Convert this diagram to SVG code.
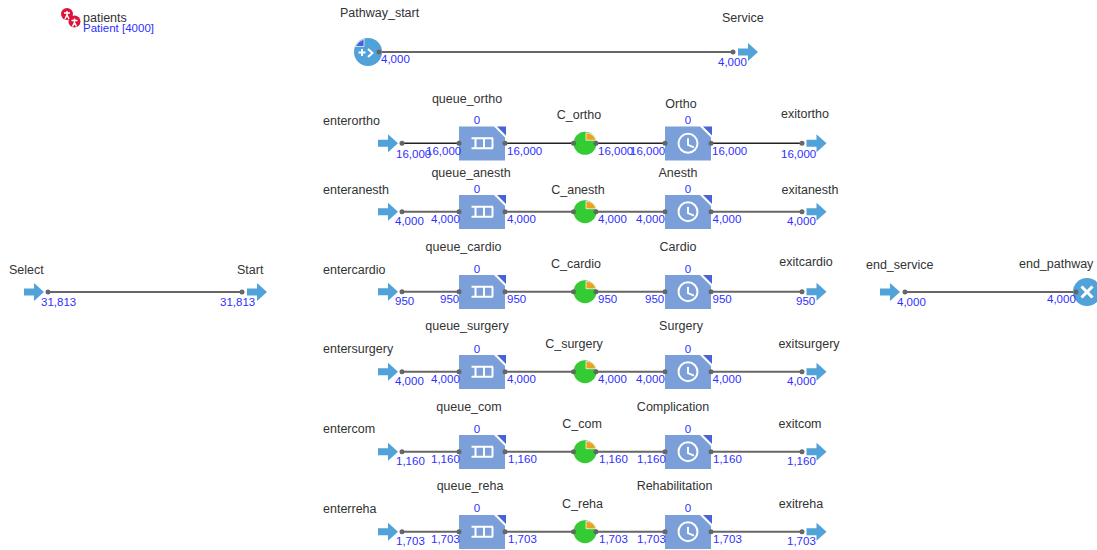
<svg xmlns="http://www.w3.org/2000/svg" width="1097" height="550" viewBox="0 0 1097 550">
<style>
text{font-family:"Liberation Sans",Arial,sans-serif;font-size:12.500px;fill:#333}
text.n{fill:#2f2fff;font-size:11.500px}
.m{text-anchor:middle}
.c{stroke:#222;stroke-width:1.5;fill:none}
.g{stroke:#666;stroke-width:2;fill:none}
.p{fill:#666}
</style>
<defs>
<path id="arrow" d="M0-3.500H10V-9L20 0 10 9V3.500H0Z" fill="#51a2d8"/>
<g id="corner"><path d="M0-16.700H35L46-5.700V17.300H0Z" fill="#7b9fd8"/><path d="M38-16.700H47V-7.700Z" fill="#4664d8"/></g>
<g id="queue"><use href="#corner"/><path d="M12.500-5H34M12.500 5H34M16.500-5V5M25-5V5M33.500-5V5" stroke="#fff" stroke-width="2" fill="none"/><circle cx="0" cy="0" r="2.500" class="p"/><circle cx="46" cy="0" r="2.500" class="p"/></g>
<g id="delay"><use href="#corner"/><circle cx="23" cy="0" r="9.500" fill="none" stroke="#fff" stroke-width="2"/><path d="M23-5V1.500L29 4" fill="none" stroke="#fff" stroke-width="2"/><circle cx="0" cy="0" r="2.500" class="p"/><circle cx="46" cy="0" r="2.500" class="p"/></g>
<g id="res"><circle r="11.500" fill="#33cc33"/><path d="M1-3V-10.500A11 11 0 0 1 11-3Z" fill="#f0a020" stroke="#fff" stroke-width=".7"/><circle cx="-11.500" r="2.500" class="p"/><circle cx="11" r="2.500" class="p"/></g>
</defs>
<g id="connectors">
<path class="g" d="M48 292H242M379 52H733M905 292H1076"/>
<path class="c" d="M402 143.300H459M505 143.300H573M596 143.300H665M711 143.300H802"/>
<path class="g" d="M402 211.700H459M505 211.700H573M596 211.700H665M711 211.700H802"/>
<path class="g" d="M402 291.700H459M505 291.700H573M596 291.700H665M711 291.700H802"/>
<path class="g" d="M402 371.700H459M505 371.700H573M596 371.700H665M711 371.700H802"/>
<path class="g" d="M402 451.700H459M505 451.700H573M596 451.700H665M711 451.700H802"/>
<path class="g" d="M402 531.700H459M505 531.700H573M596 531.700H665M711 531.700H802"/>
</g>
<g id="patients">
<circle cx="67" cy="14" r="6" fill="#dc143c"/><circle cx="74.500" cy="21.500" r="6" fill="#dc143c"/>
<path d="M67 11V15M64 13L70 13M65 19L67 15 69 19M74.500 18.500V22.500M71.500 20.500H77.500M72.500 26.500L74.500 22.500 76.500 26.500" stroke="#fff" stroke-width="1.500" fill="none"/>
<text x="83" y="22">patients</text><text x="83" y="32" class="n">Patient [4000]</text>
</g>
<g id="Select"><use href="#arrow" x="24" y="292"/><circle cx="48" cy="292" r="2.500" class="p"/><text x="9" y="274">Select</text><text x="41" y="306" class="n">31,813</text></g>
<g id="Start"><use href="#arrow" x="247" y="292"/><circle cx="242" cy="292" r="2.500" class="p"/><text x="237" y="274">Start</text><text x="220" y="306" class="n">31,813</text></g>
<g id="Pathway_start"><circle cx="368" cy="52" r="14" fill="#51a2d8"/><path d="M364 46.500H355.500A13.500 13.500 0 0 1 364 39Z" fill="#4664d8" stroke="#fff" stroke-width=".7"/><path d="M358.500 52.500H365.500M362 49V56M368 49L372.500 53 368 57" stroke="#fff" stroke-width="2" fill="none"/><circle cx="379" cy="52" r="2.500" class="p"/><text x="340" y="17">Pathway_start</text><text x="381" y="63" class="n">4,000</text></g>
<g id="Service"><use href="#arrow" x="738" y="52"/><circle cx="733" cy="52" r="2.500" class="p"/><text x="722" y="22">Service</text><text x="718" y="66" class="n">4,000</text></g>
<g id="end_service"><use href="#arrow" x="880" y="292"/><circle cx="905" cy="292" r="2.500" class="p"/><text x="866" y="269">end_service</text><text x="897" y="306" class="n">4,000</text></g>
<g id="end_pathway"><circle cx="1087" cy="292" r="14" fill="#51a2d8"/><path d="M1081.500 286.500L1092.500 297.500M1092.500 286.500L1081.500 297.500" stroke="#fff" stroke-width="3"/><circle cx="1076" cy="292" r="2.500" class="p"/><text x="1019" y="268">end_pathway</text><text x="1047" y="303" class="n">4,000</text></g>

<g id="row-ortho">
<use href="#arrow" x="378" y="143.300"/><circle cx="402" cy="143.300" r="2.500" class="p"/><circle cx="802" cy="143.300" r="2.500" class="p"/><use href="#arrow" x="806.500" y="143.300"/>
<text x="323" y="125">enterortho</text><text x="467" y="103" class="m">queue_ortho</text><text x="477" y="124" class="n m">0</text><text x="579" y="119" class="m">C_ortho</text><text x="681" y="108" class="m">Ortho</text><text x="688" y="124" class="n m">0</text><text x="805" y="118" class="m">exitortho</text>
<use href="#queue" x="459" y="143.300"/><use href="#res" x="585" y="143.300"/><use href="#delay" x="665" y="143.300"/>
<text x="396" y="158" class="n">16,000</text><text x="426" y="155" class="n">16,000</text><text x="507" y="155" class="n">16,000</text><text x="598" y="155" class="n">16,000</text><text x="630" y="155" class="n">16,000</text><text x="712" y="155" class="n">16,000</text><text x="781" y="158" class="n">16,000</text>
</g>
<g id="row-anesth">
<use href="#arrow" x="378" y="211.700"/><circle cx="402" cy="211.700" r="2.500" class="p"/><circle cx="802" cy="211.700" r="2.500" class="p"/><use href="#arrow" x="806.500" y="211.700"/>
<text x="323" y="194">enteranesth</text><text x="471" y="177" class="m">queue_anesth</text><text x="477" y="193" class="n m">0</text><text x="578" y="194" class="m">C_anesth</text><text x="678" y="177" class="m">Anesth</text><text x="688" y="193" class="n m">0</text><text x="810" y="194" class="m">exitanesth</text>
<use href="#queue" x="459" y="211.700"/><use href="#res" x="585" y="211.700"/><use href="#delay" x="665" y="211.700"/>
<text x="395" y="225" class="n">4,000</text><text x="431" y="223" class="n">4,000</text><text x="507" y="223" class="n">4,000</text><text x="598" y="223" class="n">4,000</text><text x="636" y="223" class="n">4,000</text><text x="712.500" y="223" class="n">4,000</text><text x="787" y="225" class="n">4,000</text>
</g>
<g id="row-cardio">
<use href="#arrow" x="378" y="291.700"/><circle cx="402" cy="291.700" r="2.500" class="p"/><circle cx="802" cy="291.700" r="2.500" class="p"/><use href="#arrow" x="806.500" y="291.700"/>
<text x="323" y="274">entercardio</text><text x="463.500" y="251" class="m">queue_cardio</text><text x="477" y="273" class="n m">0</text><text x="576" y="268" class="m">C_cardio</text><text x="678" y="251" class="m">Cardio</text><text x="688" y="273" class="n m">0</text><text x="806" y="266" class="m">exitcardio</text>
<use href="#queue" x="459" y="291.700"/><use href="#res" x="585" y="291.700"/><use href="#delay" x="665" y="291.700"/>
<text x="395" y="305" class="n">950</text><text x="440" y="303" class="n">950</text><text x="507" y="303" class="n">950</text><text x="598" y="303" class="n">950</text><text x="645" y="303" class="n">950</text><text x="712.500" y="303" class="n">950</text><text x="796" y="305" class="n">950</text>
</g>
<g id="row-surgery">
<use href="#arrow" x="378" y="371.700"/><circle cx="402" cy="371.700" r="2.500" class="p"/><circle cx="802" cy="371.700" r="2.500" class="p"/><use href="#arrow" x="806.500" y="371.700"/>
<text x="323" y="353">entersurgery</text><text x="467" y="330" class="m">queue_surgery</text><text x="477" y="353" class="n m">0</text><text x="574" y="348" class="m">C_surgery</text><text x="681" y="330" class="m">Surgery</text><text x="688" y="353" class="n m">0</text><text x="809" y="348" class="m">exitsurgery</text>
<use href="#queue" x="459" y="371.700"/><use href="#res" x="585" y="371.700"/><use href="#delay" x="665" y="371.700"/>
<text x="395" y="385" class="n">4,000</text><text x="431" y="383" class="n">4,000</text><text x="507" y="383" class="n">4,000</text><text x="598" y="383" class="n">4,000</text><text x="636" y="383" class="n">4,000</text><text x="712.500" y="383" class="n">4,000</text><text x="787" y="385" class="n">4,000</text>
</g>
<g id="row-com">
<use href="#arrow" x="378" y="451.700"/><circle cx="402" cy="451.700" r="2.500" class="p"/><circle cx="802" cy="451.700" r="2.500" class="p"/><use href="#arrow" x="806.500" y="451.700"/>
<text x="323" y="433">entercom</text><text x="469" y="411" class="m">queue_com</text><text x="477" y="433" class="n m">0</text><text x="582" y="428" class="m">C_com</text><text x="673" y="411" class="m">Complication</text><text x="688" y="433" class="n m">0</text><text x="800" y="428" class="m">exitcom</text>
<use href="#queue" x="459" y="451.700"/><use href="#res" x="585" y="451.700"/><use href="#delay" x="665" y="451.700"/>
<text x="396" y="465" class="n">1,160</text><text x="431" y="463" class="n">1,160</text><text x="508" y="463" class="n">1,160</text><text x="599" y="463" class="n">1,160</text><text x="637" y="463" class="n">1,160</text><text x="713" y="463" class="n">1,160</text><text x="787" y="465" class="n">1,160</text>
</g>
<g id="row-reha">
<use href="#arrow" x="378" y="531.700"/><circle cx="402" cy="531.700" r="2.500" class="p"/><circle cx="802" cy="531.700" r="2.500" class="p"/><use href="#arrow" x="806.500" y="531.700"/>
<text x="323" y="513">enterreha</text><text x="470" y="490" class="m">queue_reha</text><text x="477" y="512" class="n m">0</text><text x="582.500" y="508" class="m">C_reha</text><text x="674.500" y="490" class="m">Rehabilitation</text><text x="688" y="512" class="n m">0</text><text x="801" y="508" class="m">exitreha</text>
<use href="#queue" x="459" y="531.700"/><use href="#res" x="585" y="531.700"/><use href="#delay" x="665" y="531.700"/>
<text x="396" y="545" class="n">1,703</text><text x="431" y="543" class="n">1,703</text><text x="508" y="543" class="n">1,703</text><text x="599" y="543" class="n">1,703</text><text x="637" y="543" class="n">1,703</text><text x="713" y="543" class="n">1,703</text><text x="787" y="545" class="n">1,703</text>
</g>
</svg>
